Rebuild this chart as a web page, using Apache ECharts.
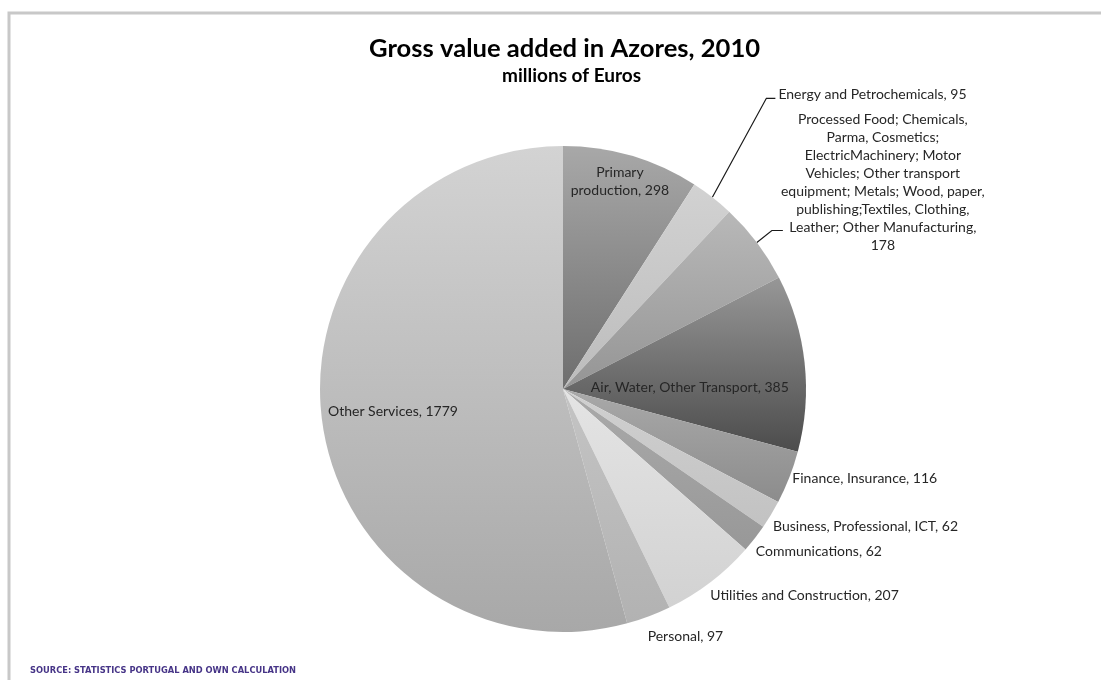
<!DOCTYPE html>
<html>
<head>
<meta charset="utf-8">
<title>Gross value added in Azores, 2010</title>
<script src="https://cdn.jsdelivr.net/npm/echarts@6/dist/echarts.min.js"></script>
<style>
  html, body { margin: 0; padding: 0; background: #ffffff; }
  #chart { width: 1101px; height: 680px; }
</style>
</head>
<body>
<div id="chart"></div>
<script>
// Sectors, clockwise from 12 o'clock
const categories = [
  'Primary\nproduction',
  'Energy and Petrochemicals',
  'Processed Food; Chemicals,\nParma, Cosmetics;\nElectricMachinery; Motor\nVehicles; Other transport\nequipment; Metals; Wood, paper,\npublishing;Textiles, Clothing,\nLeather; Other Manufacturing',
  'Air, Water, Other Transport',
  'Finance, Insurance',
  'Business, Professional, ICT',
  'Communications',
  'Utilities and Construction',
  'Personal',
  'Other Services'
];
const values = [298, 95, 178, 385, 116, 62, 62, 207, 97, 1779];

const titleText = 'Gross value added in Azores, 2010';
const subtitleText = 'millions of Euros';
const sourceText = 'SOURCE: STATISTICS PORTUGAL AND OWN CALCULATION';

// Pie geometry (pixels)
const CX = 563, CY = 389, R = 243;

// Slice shading: vertical gradient, top colour -> bottom colour
const shades = [
  ['#a8a8a8', '#6e6e6e'],
  ['#d2d2d2', '#bcbcbc'],
  ['#b8b8b8', '#959595'],
  ['#979797', '#4c4c4c'],
  ['#a9a9a9', '#8c8c8c'],
  ['#d0d0d0', '#c2c2c2'],
  ['#aaaaaa', '#989898'],
  ['#e4e4e4', '#d2d2d2'],
  ['#c4c4c4', '#b2b2b2'],
  ['#d3d3d3', '#a8a8a8']
];

// Label placement: point on the slice's mid-angle ray at r*R, nudged by dx/dy.
// line: leader elbow and end, relative to the slice's outer edge midpoint.
const labelPlacement = [
  { r: 0.89, dx: -4, dy: 0, align: 'center' },
  { r: 1, dx: 66, dy: -103, align: 'left', line: [[54, -99], [63, -99]] },
  { r: 1, dx: 126, dy: -132, align: 'center', va: 'top', line: [[15, -12], [26, -12]] },
  { r: 0.525, dx: 0, dy: 12, align: 'center' },
  { r: 1, dx: 3, dy: 1, align: 'left' },
  { r: 1, dx: 2, dy: 12, align: 'left' },
  { r: 1, dx: 1, dy: 13, align: 'left' },
  { r: 1, dx: 0, dy: 13, align: 'left' },
  { r: 1, dx: -1, dy: 20, align: 'left' },
  { r: 0.706, dx: 0, dy: 0, align: 'center' }
];
const valueOnOwnLine = [false, false, true, false, false, false, false, false, false, false];

// Mid angle of each slice, degrees clockwise from north
const total = values.reduce((a, b) => a + b, 0);
const midAngles = [];
let acc = 0;
values.forEach(v => { midAngles.push((acc + v / 2) / total * 360); acc += v; });

function pointAt(deg, r) {
  const a = deg * Math.PI / 180;
  return [CX + r * Math.sin(a), CY - r * Math.cos(a)];
}

const pieData = categories.map((name, i) => ({
  name: name,
  value: values[i],
  itemStyle: {
    color: {
      type: 'linear', x: 0, y: 0, x2: 0, y2: 1,
      colorStops: [{ offset: 0, color: shades[i][0] }, { offset: 1, color: shades[i][1] }]
    }
  },
  labelLine: { show: !!labelPlacement[i].line }
}));

const chart = echarts.init(document.getElementById('chart'), null, { renderer: 'canvas' });

chart.setOption({
  animation: false,
  backgroundColor: '#ffffff',
  title: [
    {
      text: titleText,
      left: 369,
      top: 36,
      padding: 0,
      textStyle: { fontFamily: 'Lato', fontWeight: 'bold', fontSize: 25.6, color: '#000000' }
    },
    {
      text: subtitleText,
      left: 502,
      top: 66,
      padding: 0,
      textStyle: { fontFamily: 'Lato', fontWeight: 'bold', fontSize: 19, color: '#000000' }
    }
  ],
  graphic: [
    {
      type: 'rect',
      shape: { x: 9, y: 13, width: 1200, height: 800 },
      style: { fill: 'none', stroke: '#c8c8c8', lineWidth: 3 },
      silent: true
    },
    {
      type: 'text',
      left: 30,
      top: 667,
      style: {
        text: sourceText,
        fontFamily: 'DejaVu Sans',
        fontWeight: 'bold',
        fontSize: 8.3,
        fill: '#463487'
      }
    }
  ],
  series: [
    {
      type: 'pie',
      center: [CX, CY],
      radius: [0, R],
      startAngle: 90,
      clockwise: true,
      avoidLabelOverlap: false,
      data: pieData,
      itemStyle: { borderWidth: 0 },
      label: {
        show: true,
        position: 'outside',
        fontFamily: 'Lato',
        fontSize: 14,
        lineHeight: 18,
        color: '#262626',
        formatter: p => p.name + ',' + (valueOnOwnLine[p.dataIndex] ? '\n' : ' ') + p.value
      },
      labelLine: {
        show: true,
        lineStyle: { color: '#1a1a1a', width: 1.2 }
      },
      emphasis: { disabled: true },
      labelLayout: function (p) {
        const i = p.dataIndex;
        const spot = labelPlacement[i];
        const base = pointAt(midAngles[i], spot.r * R);
        const out = {
          x: base[0] + spot.dx,
          y: base[1] + spot.dy,
          align: spot.align,
          verticalAlign: spot.va || 'middle'
        };
        if (spot.line) {
          const e = pointAt(midAngles[i], R);
          out.labelLinePoints = [
            e,
            [e[0] + spot.line[0][0], e[1] + spot.line[0][1]],
            [e[0] + spot.line[1][0], e[1] + spot.line[1][1]]
          ];
        }
        return out;
      }
    }
  ]
});
</script>
</body>
</html>
